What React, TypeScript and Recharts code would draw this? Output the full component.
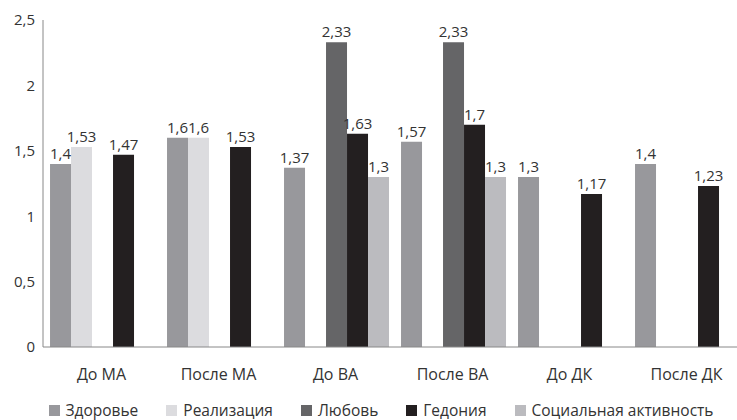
import { BarChart, Bar, XAxis, YAxis, LabelList } from "recharts";

const categories = ["До МА", "После МА", "До ВА", "После ВА", "До ДК", "После ДК"];
const health = [1.4, 1.6, 1.37, 1.57, 1.3, 1.4];
const realization = [1.53, 1.6, null, null, null, null];
const love = [null, null, 2.33, 2.33, null, null];
const hedonia = [1.47, 1.53, 1.63, 1.7, 1.17, 1.23];
const social = [null, null, 1.3, 1.3, null, null];
const yTicks = [0, 0.5, 1, 1.5, 2, 2.5];

const series = [
  { key: "health", name: "Здоровье", color: "#98989c" },
  { key: "realization", name: "Реализация", color: "#dcdcdf" },
  { key: "love", name: "Любовь", color: "#656567" },
  { key: "hedonia", name: "Гедония", color: "#231f20" },
  { key: "social", name: "Социальная активность", color: "#bbbbbf" },
];

const data = categories.map((name, i) => ({
  name,
  health: health[i],
  realization: realization[i],
  love: love[i],
  hedonia: hedonia[i],
  social: social[i],
}));

const fmt = (v: any) => (v == null ? "" : String(v).replace(".", ","));
const font = "'Open Sans', sans-serif";

function LegendRow() {
  return (
    <div
      style={{
        position: "absolute",
        left: 25,
        width: 712,
        top: 401,
        height: 19,
        lineHeight: "19px",
        display: "flex",
        justifyContent: "center",
        fontFamily: font,
        fontSize: 15.5,
        color: "#333",
      }}
    >
      {series.map((s) => (
        <div key={s.key} style={{ display: "flex", alignItems: "center", margin: "0 14px" }}>
          <span style={{ width: 11, height: 11, background: s.color, display: "inline-block", marginRight: 6 }} />
          <span>{s.name}</span>
        </div>
      ))}
    </div>
  );
}

export default function App() {
  return (
    <div style={{ position: "absolute", left: 0, top: 0, width: 737, height: 420, overflow: "hidden", background: "#fff" }}>
      <BarChart
        width={750}
        height={420}
        data={data}
        margin={{ top: 20, right: 5, left: 0, bottom: 43 }}
        barCategoryGap="6%"
        barGap={0}
      >
        <XAxis
          dataKey="name"
          tickLine={false}
          axisLine={{ stroke: "#888" }}
          tickMargin={16}
          height={30}
          tick={{ fill: "#333", fontSize: 16, fontFamily: font }}
        />
        <YAxis
          width={43}
          domain={[0, 2.5]}
          ticks={yTicks}
          tickLine={false}
          axisLine={{ stroke: "#888" }}
          tickFormatter={fmt}
          tick={{ fill: "#333", fontSize: 15, fontFamily: font }}
        />
        {series.map((s) => (
          <Bar key={s.key} dataKey={s.key} name={s.name} fill={s.color} isAnimationActive={false}>
            <LabelList
              dataKey={s.key}
              position="top"
              formatter={fmt}
              style={{ fill: "#333", fontSize: 15, fontFamily: font }}
            />
          </Bar>
        ))}
      </BarChart>
      <LegendRow />
    </div>
  );
}
